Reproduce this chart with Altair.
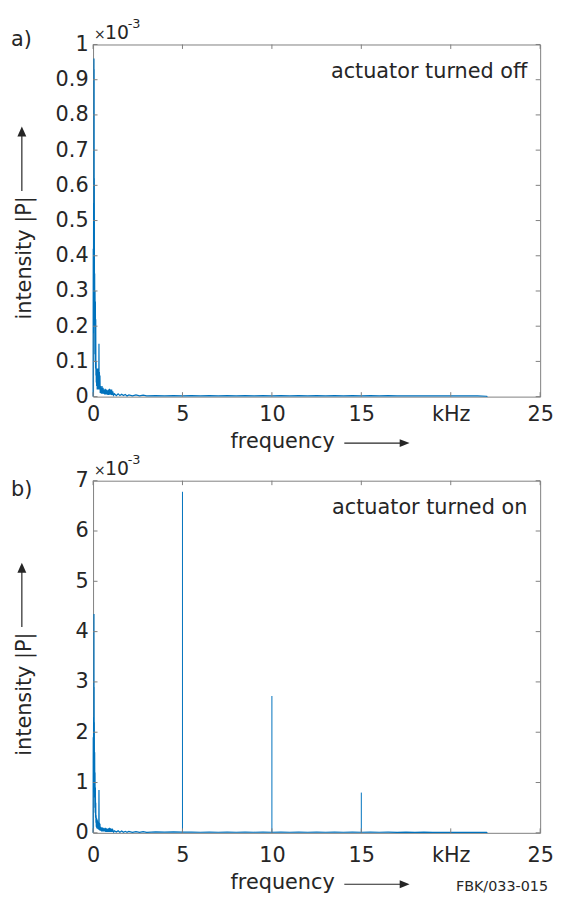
import altair as alt
import pandas as pd

FONT = "DejaVu Sans"
TXT = "#262626"
AX = "#808080"
BLUE = "#0072BD"
W, H = 452, 356

# ---------------- data (intensity in units of 1e-3, frequency in kHz) ----------------
low_freq = [0.000, 0.010, 0.020, 0.030, 0.040, 0.050, 0.055, 0.060, 0.065, 0.070,
            0.080, 0.090, 0.100, 0.110, 0.120, 0.130, 0.140, 0.150, 0.160, 0.170,
            0.180, 0.190, 0.200, 0.215, 0.230, 0.245, 0.260, 0.275, 0.290, 0.305,
            0.320, 0.330, 0.340, 0.355, 0.370, 0.385, 0.400, 0.420, 0.440, 0.460,
            0.480, 0.500, 0.530, 0.560, 0.590, 0.620, 0.650, 0.680, 0.710, 0.740,
            0.770, 0.800, 0.830, 0.860, 0.890, 0.920, 0.950, 0.980, 1.010, 1.040,
            1.070, 1.100, 1.150, 1.200, 1.300, 1.400, 1.500, 1.600, 1.700, 1.800,
            1.900, 2.000, 2.200, 2.400, 2.600, 2.800, 3.000]

a_low = [0.00, 0.42, 0.18, 0.55, 0.25, 0.96, 0.30, 0.93, 0.22, 0.62,
         0.20, 0.35, 0.12, 0.30, 0.10, 0.27, 0.08, 0.22, 0.06, 0.10,
         0.04, 0.08, 0.03, 0.08, 0.02, 0.07, 0.02, 0.08, 0.02, 0.06,
         0.02, 0.15, 0.02, 0.07, 0.02, 0.06, 0.01, 0.03, 0.01, 0.025,
         0.008, 0.03, 0.008, 0.025, 0.008, 0.02, 0.006, 0.022, 0.006, 0.02,
         0.006, 0.018, 0.005, 0.02, 0.005, 0.022, 0.006, 0.02, 0.005, 0.02,
         0.004, 0.015, 0.004, 0.008, 0.003, 0.008, 0.003, 0.007, 0.003, 0.006,
         0.002, 0.005, 0.002, 0.005, 0.002, 0.004, 0.002]

b_low = [0.00, 1.90, 0.80, 2.30, 1.00, 4.35, 1.20, 2.90, 0.90, 2.20,
         0.70, 1.60, 0.50, 1.20, 0.40, 0.90, 0.30, 0.60, 0.20, 0.35,
         0.12, 0.30, 0.10, 0.28, 0.08, 0.25, 0.08, 0.22, 0.07, 0.20,
         0.06, 0.85, 0.06, 0.20, 0.05, 0.18, 0.04, 0.12, 0.04, 0.10,
         0.03, 0.11, 0.03, 0.10, 0.03, 0.09, 0.03, 0.10, 0.02, 0.09,
         0.02, 0.08, 0.02, 0.09, 0.02, 0.10, 0.02, 0.09, 0.02, 0.08,
         0.02, 0.06, 0.015, 0.04, 0.015, 0.04, 0.012, 0.035, 0.012, 0.03,
         0.01, 0.03, 0.01, 0.025, 0.01, 0.025, 0.01]

tail_freq = [3.5, 4.0, 4.5, 5.0, 5.5, 6.0, 6.5, 7.0, 7.5, 8.0,
             8.5, 9.0, 9.5, 10.0, 10.5, 11.0, 11.5, 12.0, 12.5, 13.0,
             13.5, 14.0, 14.5, 15.0, 15.5, 16.0, 16.5, 17.0, 17.5, 18.0,
             18.5, 19.0, 19.5, 20.0, 20.5, 21.0, 21.5, 22.0, 22.05]

a_tail = [0.003, 0.002, 0.003, 0.002, 0.003, 0.002, 0.003, 0.002, 0.003, 0.002,
          0.003, 0.002, 0.003, 0.002, 0.003, 0.002, 0.003, 0.002, 0.003, 0.002,
          0.003, 0.002, 0.003, 0.002, 0.003, 0.002, 0.003, 0.002, 0.002, 0.002,
          0.002, 0.002, 0.002, 0.002, 0.002, 0.002, 0.002, 0.001, 0.000]

b_tail = [0.018, 0.013, 0.018, 0.013, 0.017, 0.012, 0.017, 0.012, 0.017, 0.012,
          0.016, 0.012, 0.016, 0.012, 0.016, 0.012, 0.015, 0.011, 0.015, 0.011,
          0.015, 0.011, 0.014, 0.011, 0.014, 0.011, 0.014, 0.010, 0.013, 0.010,
          0.013, 0.010, 0.012, 0.010, 0.012, 0.009, 0.011, 0.008, 0.000]

# actuator harmonics (panel b)
peak_freq = [5.0, 10.0, 15.0]
peak_val = [6.78, 2.72, 0.80]

x_ticks = [0, 5, 10, 15, 20, 25]
a_yticks = [0, 0.1, 0.2, 0.3, 0.4, 0.5, 0.6, 0.7, 0.8, 0.9, 1.0]
b_yticks = [0, 1, 2, 3, 4, 5, 6, 7]

ONE = pd.DataFrame({"k": [0]})


def txt(s, x, y, size=21, align="left", angle=0, baseline="alphabetic"):
    kw = dict(text=s, font=FONT, fontSize=size, color=TXT, align=align, baseline=baseline)
    if angle:
        kw["angle"] = angle
    return alt.Chart(ONE).mark_text(**kw).encode(x=alt.value(x), y=alt.value(y))


def panel(freq, val, yticks, ymax, label, label_y, note, dy=0, peaks=None, extra=None):
    xs = alt.Scale(domain=[0, 25], nice=False, zero=False)
    ys = alt.Scale(domain=[0, ymax], nice=False, zero=False)
    xaxis = alt.Axis(
        values=x_ticks, labelExpr="datum.value == 20 ? 'kHz' : datum.label",
        title=None, ticks=False, domain=False, grid=False, labelFlush=False,
        labelOverlap=False, labelFont=FONT, labelFontSize=21, labelColor=TXT,
        labelPadding=7 + dy)
    yaxis = alt.Axis(
        values=yticks, format="~g", title=None, ticks=False, domain=False,
        grid=False, labelOverlap=False, labelFont=FONT, labelFontSize=21,
        labelColor=TXT, labelPadding=5)
    X = lambda: alt.X("f:Q", scale=xs, axis=xaxis, title=None)
    Y = lambda: alt.Y("v:Q", scale=ys, axis=yaxis, title=None)

    df = pd.DataFrame({"f": freq, "v": val})
    line = alt.Chart(df).mark_line(color=BLUE, strokeWidth=1.2).encode(x=X(), y=Y())
    layers = [line]
    if peaks is not None:
        pdf = pd.DataFrame({"f": peaks[0], "v": peaks[1]})
        layers.append(alt.Chart(pdf).mark_rule(color=BLUE, strokeWidth=1).encode(
            x=X(), y=Y(), y2=alt.datum(0)))
    xt = pd.DataFrame({"f": x_ticks})
    yt = pd.DataFrame({"v": yticks})
    layers.append(alt.Chart(xt).mark_rule(color=AX, strokeWidth=1).encode(
        x=X(), y=alt.value(H), y2=alt.value(H - 4.5)))
    layers.append(alt.Chart(xt).mark_rule(color=AX, strokeWidth=1).encode(
        x=X(), y=alt.value(0), y2=alt.value(4.5)))
    layers.append(alt.Chart(yt).mark_rule(color=AX, strokeWidth=1).encode(
        y=Y(), x=alt.value(0), x2=alt.value(4.5)))
    layers.append(alt.Chart(yt).mark_rule(color=AX, strokeWidth=1).encode(
        y=Y(), x=alt.value(W), x2=alt.value(W - 4.5)))

    # exponent label
    layers.append(txt("×", 1, -6, size=14))
    layers.append(txt("10", 12, -6, size=19))
    layers.append(txt("-3", 35, -17, size=13))
    # panel label and annotation
    layers.append(txt(label, -83, label_y))
    layers.append(txt(note, 439, 34, align="right"))
    # y title with arrow
    layers.append(txt("intensity |P|", -63, 278, angle=270))
    layers.append(alt.Chart(ONE).mark_rule(color=TXT, strokeWidth=1.2).encode(
        x=alt.value(-72), y=alt.value(148), y2=alt.value(92)))
    layers.append(alt.Chart(ONE).mark_point(
        shape="M0,-1L0.9,1L-0.9,1Z", filled=True, size=100, color=TXT, opacity=1,
        strokeWidth=0).encode(x=alt.value(-72), y=alt.value(88)))
    # x title with arrow
    layers.append(txt("frequency", 139, 408 + dy))
    layers.append(alt.Chart(ONE).mark_rule(color=TXT, strokeWidth=1.2).encode(
        x=alt.value(254), x2=alt.value(312), y=alt.value(403 + dy)))
    layers.append(alt.Chart(ONE).mark_point(
        shape="M1,0L-1,0.8L-1,-0.8Z", filled=True, size=100, color=TXT, opacity=1,
        strokeWidth=0).encode(x=alt.value(315), y=alt.value(403 + dy)))
    if extra:
        layers.extend(extra)
    return alt.layer(*layers).properties(width=W, height=H)


top = panel(low_freq + tail_freq, a_low + a_tail, a_yticks, 1.0, "a)", 1.5,
            "actuator turned off")
bottom = panel(low_freq + tail_freq, b_low + b_tail, b_yticks, 7.0, "b)", 15,
               "actuator turned on", dy=5, peaks=(peak_freq, peak_val),
               extra=[txt("FBK/033-015", 460, 415, size=14.5, align="right")])

chart = alt.vconcat(top, bottom, spacing=85, bounds="flush").configure_view(
    stroke=AX, strokeWidth=1
).properties(padding={"left": 2, "top": 4, "right": 0, "bottom": 0})

chart.save("out.html", embed_options={"renderer": "svg", "actions": False})
